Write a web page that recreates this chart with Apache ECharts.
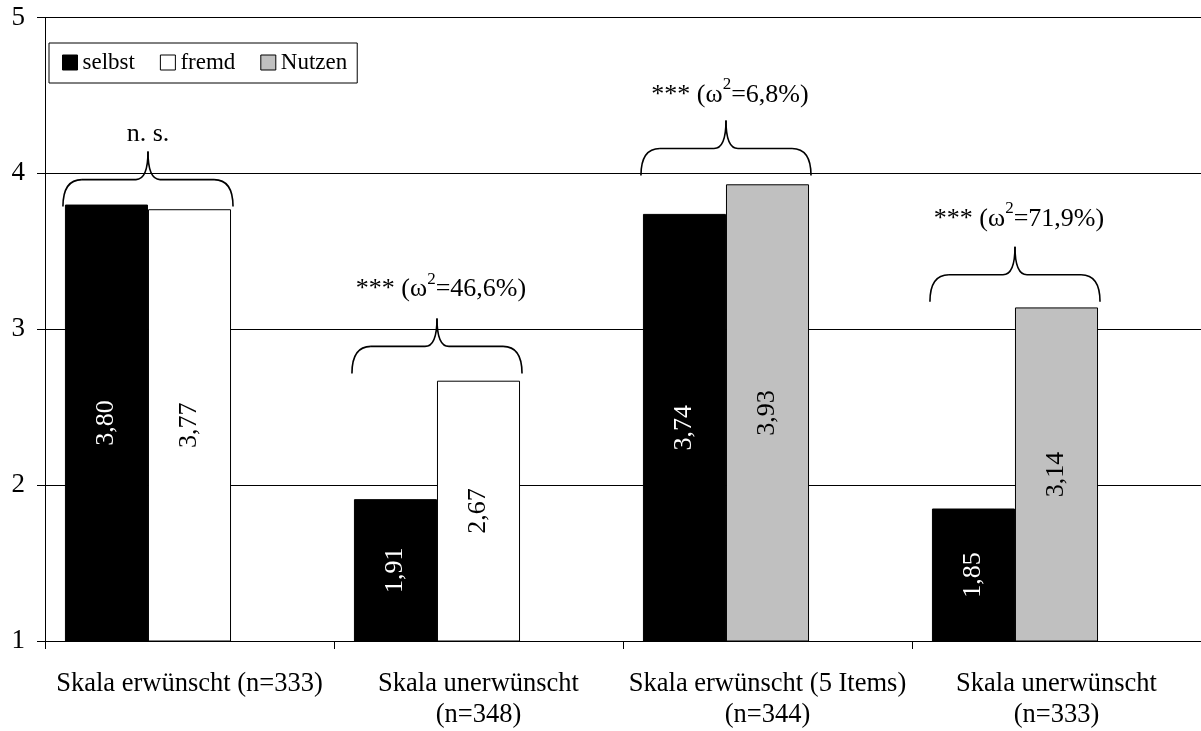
<!DOCTYPE html>
<html>
<head>
<meta charset="utf-8">
<script src="https://cdn.jsdelivr.net/npm/echarts@6/dist/echarts.min.js"></script>
<style>
  html, body { margin: 0; padding: 0; background: #fff; }
  #chart { width: 1201px; height: 731px; }
</style>
</head>
<body>
<div id="chart"></div>
<script>
// ---- data ----
const categories = ['Skala erwünscht (n=333)', 'Skala unerwünscht\n(n=348)', 'Skala erwünscht (5 Items)\n(n=344)', 'Skala unerwünscht\n(n=333)'];
const selbst = [3.80, 1.91, 3.74, 1.85];
const fremd = [3.77, 2.67, null, null];
const nutzen = [null, null, 3.93, 3.14];
const yMin = 1, yMax = 5, yInterval = 1;
const annotTexts = ['{a|n. s.}', '{a|*** (ω}{sup|2}{a|=46,6%)}', '{a|*** (ω}{sup|2}{a|=6,8%)}', '{a|*** (ω}{sup|2}{a|=71,9%)}'];
const braceLevel = [3.96, 2.89, 4.16, 3.35];
const textLevel = [4.20, 3.20, 4.45, 3.65];

// ---- styles ----
const FONT = '"Liberation Serif", "Times New Roman", serif';
const GRAY = '#c0c0c0';
const GAP = 0.138;

const secondData = categories.map((c, i) => fremd[i] != null
  ? { value: fremd[i] }
  : { value: nutzen[i], itemStyle: { color: GRAY } });

const fmt = p => p.value.toFixed(2).replace('.', ',');

const chart = echarts.init(document.getElementById('chart'), null, { renderer: 'canvas' });

chart.setOption({
  backgroundColor: '#fff',
  animation: false,
  grid: { left: 45, right: -4, top: 17.5, bottom: 83, containLabel: false },
  legend: {
    left: 49, top: 43,
    data: ['selbst', 'fremd', 'Nutzen'],
    icon: 'rect',
    itemWidth: 15, itemHeight: 15, itemGap: 25,
    padding: [8, 10, 9, 13],
    backgroundColor: '#fff',
    borderColor: '#000', borderWidth: 1,
    itemStyle: { borderColor: '#000', borderWidth: 1 },
    textStyle: { fontFamily: FONT, fontSize: 23, color: '#000' },
    selectedMode: false
  },
  xAxis: {
    type: 'category',
    data: categories,
    axisLine: { show: true, lineStyle: { color: '#000', width: 1 } },
    axisTick: { show: true, length: 8, interval: 0, lineStyle: { color: '#000' } },
    axisLabel: { interval: 0, margin: 28, fontFamily: FONT, fontSize: 26.5, color: '#000', lineHeight: 31 },
    splitLine: { show: false }
  },
  yAxis: {
    type: 'value',
    min: yMin, max: yMax, interval: yInterval,
    axisLine: { show: true, lineStyle: { color: '#000', width: 1 } },
    axisTick: { show: true, length: 8, lineStyle: { color: '#000' } },
    axisLabel: { margin: 20, fontFamily: FONT, fontSize: 27, color: '#000' },
    splitLine: { show: true, lineStyle: { color: '#000', width: 1 } }
  },
  series: [
    {
      name: 'selbst', type: 'bar', data: selbst,
      barGap: 0, barCategoryGap: (GAP * 100) + '%',
      itemStyle: { color: '#000', borderColor: '#000', borderWidth: 1 },
      label: { show: true, position: 'inside', rotate: 90, formatter: fmt,
        fontFamily: FONT, fontSize: 26, color: '#fff' }
    },
    {
      name: 'fremd', type: 'bar', data: secondData,
      barGap: 0, barCategoryGap: (GAP * 100) + '%',
      itemStyle: { color: '#fff', borderColor: '#000', borderWidth: 1 },
      label: { show: true, position: 'inside', rotate: 90, formatter: fmt,
        fontFamily: FONT, fontSize: 26, color: '#000' }
    },
    {
      name: 'Nutzen', type: 'bar', data: categories.map(() => '-'),
      barGap: 0, barCategoryGap: (GAP * 100) + '%',
      itemStyle: { color: GRAY, borderColor: '#000', borderWidth: 1 }
    },
    {
      name: 'annot', type: 'custom', silent: true, clip: false, z: 5,
      data: categories.map((c, i) => [i, braceLevel[i], textLevel[i]]),
      encode: { x: 0, y: 1 },
      renderItem: function (params, api) {
        const cat = api.value(0);
        const p = api.coord([cat, api.value(1)]);
        const pt = api.coord([cat, api.value(2)]);
        const band = api.size([1, 0])[0];
        const barW = band * (1 - GAP) / 3;
        const x0 = p[0] - band / 2 + band * GAP / 2;
        const L = x0 - 2, R = x0 + 2 * barW + 2, M = x0 + barW;
        const yH = p[1], yB = yH + 27, yT = yH - 28;
        const r1 = 19, r2 = 12;
        const ls = { stroke: '#000', lineWidth: 1.6, fill: 'none' };
        const idx = params.dataIndex;
        return {
          type: 'group',
          children: [
            { type: 'bezierCurve', shape: { x1: L, y1: yB, cpx1: L, cpy1: yH, x2: L + r1, y2: yH }, style: ls },
            { type: 'line', shape: { x1: L + r1, y1: yH, x2: M - r2, y2: yH }, style: ls },
            { type: 'bezierCurve', shape: { x1: M - r2, y1: yH, cpx1: M, cpy1: yH, x2: M, y2: yT }, style: ls },
            { type: 'bezierCurve', shape: { x1: M, y1: yT, cpx1: M, cpy1: yH, x2: M + r2, y2: yH }, style: ls },
            { type: 'line', shape: { x1: M + r2, y1: yH, x2: R - r1, y2: yH }, style: ls },
            { type: 'bezierCurve', shape: { x1: R - r1, y1: yH, cpx1: R, cpy1: yH, x2: R, y2: yB }, style: ls },
            {
              type: 'text', x: M + (idx === 0 ? 0 : 4), y: pt[1] - 8.5,
              style: {
                text: annotTexts[idx],
                fontFamily: FONT, fontSize: 26, fill: '#000',
                align: 'center', verticalAlign: 'middle',
                rich: {
                  a: { fontFamily: FONT, fontSize: 26, lineHeight: 38, fill: '#000' },
                  sup: { fontFamily: FONT, fontSize: 17, lineHeight: 17, fill: '#000', verticalAlign: 'top' }
                }
              }
            }
          ]
        };
      }
    }
  ]
});
</script>
</body>
</html>
